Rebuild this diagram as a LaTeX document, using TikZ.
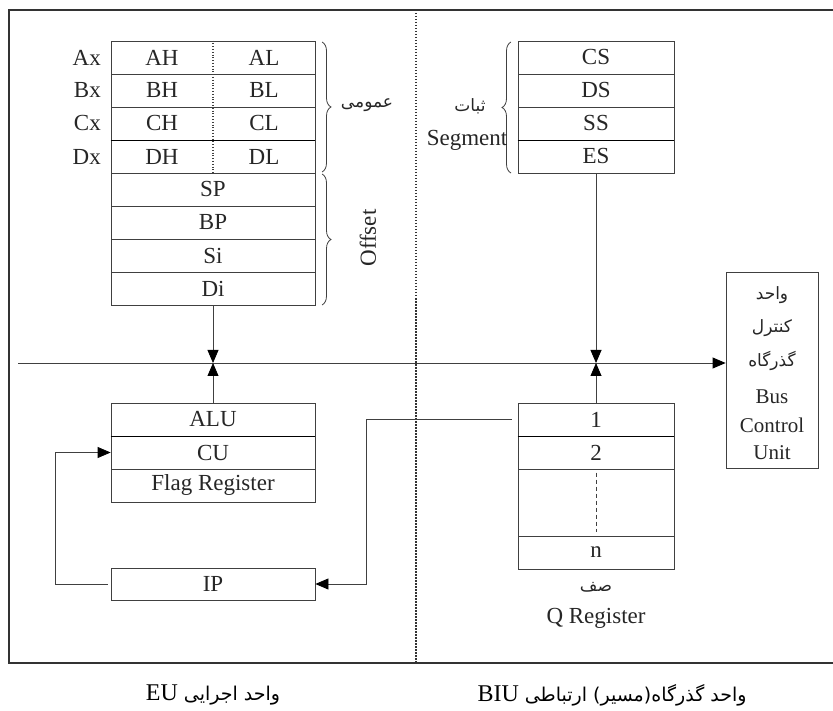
\documentclass[tikz,border=0pt]{standalone}
\usepackage{fontspec}
\setmainfont{Liberation Serif}
\newfontfamily\fa[Script=Arabic]{DejaVu Sans}
\TeXXeTstate=1
\usetikzlibrary{arrows.meta,decorations.pathreplacing}
\begin{document}
\begin{tikzpicture}[x=1pt,y=-1pt,
  ln/.style={draw=black!75,line width=0.8pt},
  reg/.style={ln,minimum width=204pt,minimum height=33pt,inner sep=0pt,font=\fontsize{23}{26}\selectfont,text=black!85},
  seg/.style={reg,minimum width=156pt},
  arr/.style={ln,-{Triangle[length=13pt,width=11pt,color=black]}},
  lbl/.style={font=\fontsize{23}{26}\selectfont,text=black!85,inner sep=0pt},
  slbl/.style={font=\fontsize{21}{24}\selectfont,text=black!85,inner sep=0pt},
  falbl/.style={font=\fa\fontsize{17}{20}\selectfont,text=black!85,inner sep=0pt},
  thk/.style={draw=black,line width=1.4pt},
  brc/.style={draw=black!75,line width=0.8pt,decorate,decoration={brace,amplitude=9pt}}
]
\useasboundingbox (0,0) rectangle (833,711);
% frame and divider
\draw[draw=black!80,line width=1.2pt] (833,10) -- (9,10) -- (9,663) -- (833,663);
\draw[black!80,line width=1.5pt,dash pattern=on 1.5pt off 1.5pt] (416,10) -- (416,663);

% general registers
\node[reg] (rowA) at (213,57.5) {};
\node[reg] (rowB) at (213,90.5) {};
\node[reg] (rowC) at (213,123.5) {};
\node[reg] (rowD) at (213,156.5) {};
\draw[ln,dotted,line width=1.3pt] (rowA.north) -- (rowD.south);
\node[lbl] (AH) at (162,57.5) {AH};
\node[lbl] (AL) at (264,57.5) {AL};
\node[lbl] (BH) at (162,90.5) {BH};
\node[lbl] (BL) at (264,90.5) {BL};
\node[lbl] (CH) at (162,123.5) {CH};
\node[lbl] (CL) at (264,123.5) {CL};
\node[lbl] (DH) at (162,156.5) {DH};
\node[lbl] (DL) at (264,156.5) {DL};
\draw[thk] (rowC.south west) -- (rowC.south east);
\node[lbl,anchor=east] (Ax) at (101,57.5) {Ax};
\node[lbl,anchor=east] (Bx) at (101,90.5) {Bx};
\node[lbl,anchor=east] (Cx) at (101,123.5) {Cx};
\node[lbl,anchor=east] (Dx) at (101,156.5) {Dx};
\node[reg] (SP) at (213,189.5) {SP};
\node[reg] (BP) at (213,222.5) {BP};
\node[reg] (Si) at (213,255.5) {Si};
\node[reg] (Di) at (213,288.5) {Di};
\draw[brc] (322,42) -- (322,172);
\draw[brc] (322,174) -- (322,305);
\node[falbl] (gen) at (367,105) {\beginR عمومی\endR};
\node[lbl,rotate=90] (off) at (368,238) {Offset};

% segment registers
\node[seg] (CS) at (596,57.5) {CS};
\node[seg] (DS) at (596,90.5) {DS};
\node[seg] (SS) at (596,123.5) {SS};
\node[seg] (ES) at (596,156.5) {ES};
\draw[thk] (SS.south west) -- (SS.south east);
\draw[brc] (511,173) -- (511,42);
\node[falbl] (sabat) at (470,106) {\beginR ثبات\endR};
\node[lbl] (segl) at (467,140) {Segment};

% bus
\node[ln,minimum width=92pt,minimum height=196pt,inner sep=0pt] (BCU) at (772,370) {};
\node[falbl] (b1) at (772,295) {\beginR واحد\endR};
\node[falbl] (b2) at (772,328) {\beginR کنترل\endR};
\node[falbl] (b3) at (772,361) {\beginR گذرگاه\endR};
\node[slbl] (b4) at (772,397) {Bus};
\node[slbl] (b5) at (772,425) {Control};
\node[slbl] (b6) at (772,453) {Unit};
\coordinate (busL) at (18,363);
\draw[arr] (busL) -- (busL -| BCU.west);

% ALU block
\node[reg] (ALU) at (213,419.5) {ALU};
\node[reg] (CU) at (213,452.5) {CU};
\node[reg] (FR) at (213,485.5) {Flag Register};
\draw[thk] (ALU.south west) -- (ALU.south east);
\node[reg,minimum height=32pt] (IP) at (213,584) {IP};

% Q register
\node[seg] (Q1) at (596,419.5) {1};
\node[seg] (Q2) at (596,452.5) {2};
\node[seg,minimum height=67pt] (Qd) at (596,502.5) {};
\node[seg] (Qn) at (596,552.5) {n};
\draw[thk] (Q1.south west) -- (Q1.south east);
\draw[ln,dash pattern=on 4pt off 3pt] ([yshift=-4pt]Qd.north) -- ([yshift=4pt]Qd.south);
\node[falbl] (saf) at (596,587) {\beginR صف\endR};
\node[lbl] (qreg) at (596,618) {Q Register};

% connectors
\draw[arr] (Di.south) -- (Di.south |- busL);
\draw[arr] (ALU.north) -- (ALU.north |- busL);
\draw[arr] (ES.south) -- (ES.south |- busL);
\draw[arr] (Q1.north) -- (Q1.north |- busL);
\draw[arr] ([xshift=-6pt]Q1.west) -- ++(-145,0) |- (IP.east);
\draw[arr] ([xshift=-3pt]IP.west) -- ++(-52,0) |- (CU.west);

% unit labels
\node[inner sep=0pt] (eu) at (213,695) {\fa\fontsize{19}{22}\selectfont\beginR واحد اجرایی \beginL{\rmfamily\fontsize{24}{27}\selectfont EU}\endL\endR};
\node[inner sep=0pt] (biu) at (612,695) {\fa\fontsize{19}{22}\selectfont\beginR واحد گذرگاه(مسیر) ارتباطی \beginL{\rmfamily\fontsize{24}{27}\selectfont BIU}\endL\endR};
\end{tikzpicture}
\end{document}
